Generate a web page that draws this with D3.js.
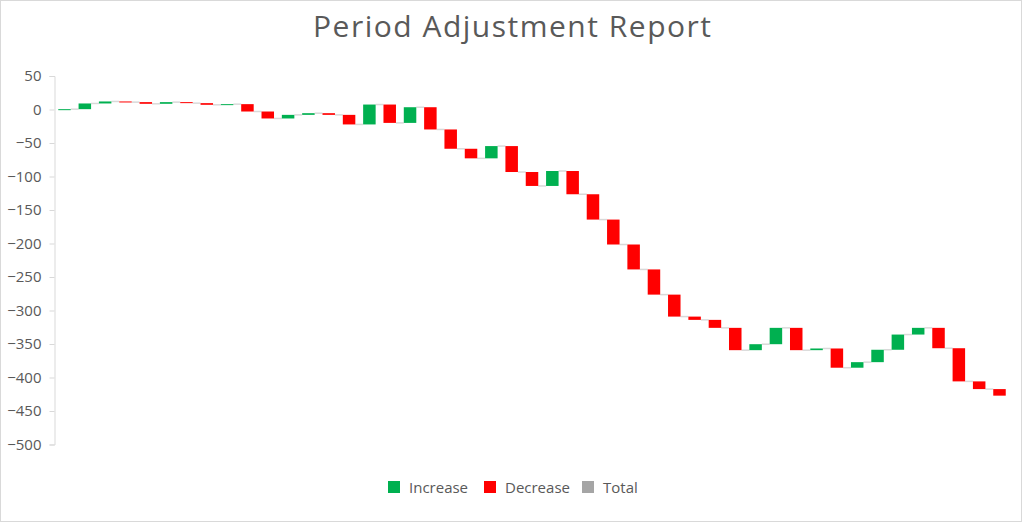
<!DOCTYPE html>
<html>
<head>
<meta charset="utf-8">
<script src="https://cdn.jsdelivr.net/npm/d3@7/dist/d3.min.js"></script>
<style>
  html, body { margin: 0; padding: 0; background: #fff; }
  svg { display: block; font-family: "Open Sans", sans-serif; }
</style>
</head>
<body>
<svg id="chart" width="1024" height="523"></svg>
<script>
// periodos (sin etiquetas visibles en el gráfico)
const periods = [
  "P01","P02","P03","P04","P05","P06","P07","P08","P09","P10",
  "P11","P12","P13","P14","P15","P16","P17","P18","P19","P20",
  "P21","P22","P23","P24","P25","P26","P27","P28","P29","P30",
  "P31","P32","P33","P34","P35","P36","P37","P38","P39","P40",
  "P41","P42","P43","P44","P45","P46","P47"
];
// ajuste de cada periodo
const adjustments = [
  0.5, 8.5, 3, -1, -2.5, 2.5, -1.5, -2.5, 1, -11,
  -10.4, 5.4, 2.5, -2.5, -14.3, 29.7, -27.4, 23.4, -33.2, -28.8,
  -14.3, 18.3, -38.7, -20.8, 22.3, -34.7, -37.8, -37.2, -37.2, -37.6,
  -32.8, -4.9, -11.9, -33.3, 8.9, 24.4, -33.3, 2.5, -28.7, 8.3,
  18.5, 22.7, 10, -30.4, -49.5, -11.5, -9.8
];
const yTicks = [50, 0, -50, -100, -150, -200, -250, -300, -350, -400, -450, -500];
const legendItems = ["Increase", "Decrease", "Total"];

const COLORS = { Increase: '#00b050', Decrease: '#ff0000', Total: '#a5a5a5' };
const TXT = '#595959', LINE = '#d9d9d9';

const svg = d3.select('#chart');

// borde del área del gráfico
svg.append('rect')
  .attr('x', 0.5).attr('y', 0.5).attr('width', 1021).attr('height', 521)
  .attr('fill', '#fff').attr('stroke', LINE);

// acumulado para la cascada
let run = 0;
const rows = periods.map((p, i) => {
  const start = run;
  run += adjustments[i];
  return { p, start, end: run, kind: adjustments[i] >= 0 ? 'Increase' : 'Decrease' };
});

const x = d3.scaleBand().domain(periods).range([55, 1009])
  .paddingInner(0.385).paddingOuter(0.16);
const y = d3.scaleLinear().domain([-500, 50]).range([444.5, 76]);

// eje Y
const yAxis = svg.append('g')
  .attr('transform', 'translate(54.5,0)')
  .call(d3.axisLeft(y).tickValues(yTicks).tickSize(5).tickPadding(8).tickFormat(d3.format('d')));
yAxis.select('.domain').attr('stroke', LINE);
yAxis.selectAll('.tick line').attr('stroke', LINE);
yAxis.selectAll('text')
  .attr('fill', TXT).attr('font-size', 15)
  .attr('font-family', '"Open Sans", sans-serif');

// conectores
svg.append('g').selectAll('line')
  .data(rows.slice(0, -1))
  .join('line')
  .attr('x1', (d) => x(d.p) + x.bandwidth())
  .attr('x2', (d, i) => x(periods[i + 1]))
  .attr('y1', (d) => y(d.end))
  .attr('y2', (d) => y(d.end))
  .attr('stroke', LINE).attr('stroke-width', 1.5);

// barras
svg.append('g').selectAll('rect')
  .data(rows)
  .join('rect')
  .attr('x', (d) => x(d.p))
  .attr('width', x.bandwidth())
  .attr('y', (d) => y(Math.max(d.start, d.end)))
  .attr('height', (d) => Math.max(1, Math.abs(y(d.start) - y(d.end))))
  .attr('fill', (d) => COLORS[d.kind]);

// título
svg.append('text')
  .attr('x', 512).attr('y', 37)
  .attr('text-anchor', 'middle')
  .attr('fill', TXT).attr('font-size', 30)
  .attr('textLength', 398).attr('lengthAdjust', 'spacing')
  .text('Period Adjustment Report');

// leyenda
const legendX = [388, 484, 582];
const lg = svg.append('g');
legendItems.forEach((name, i) => {
  lg.append('rect')
    .attr('x', legendX[i]).attr('y', 481)
    .attr('width', 12).attr('height', 12)
    .attr('fill', COLORS[name]);
  lg.append('text')
    .attr('x', legendX[i] + 21).attr('y', 492.5)
    .attr('fill', TXT).attr('font-size', 15)
    .text(name);
});
</script>
</body>
</html>
